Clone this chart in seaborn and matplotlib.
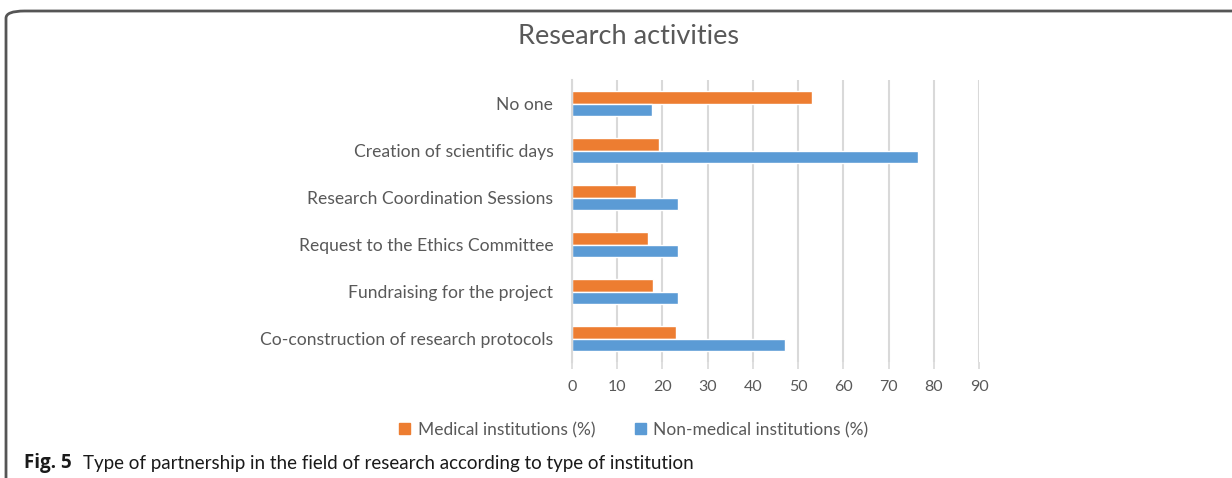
import matplotlib
matplotlib.use("Agg")
import matplotlib.pyplot as plt
from matplotlib.patches import FancyBboxPatch
import seaborn as sns
import pandas as pd

categories = [
    "No one",
    "Creation of scientific days",
    "Research Coordination Sessions",
    "Request to the Ethics Committee",
    "Fundraising for the project",
    "Co-construction of research protocols",
]
medical = [53.0, 19.2, 14.1, 16.8, 18.0, 23.1]
non_medical = [17.6, 76.5, 23.5, 23.5, 23.5, 47.0]
series_names = ["Medical institutions (%)", "Non-medical institutions (%)"]
x_ticks = [0, 10, 20, 30, 40, 50, 60, 70, 80, 90]

df = pd.DataFrame({
    "category": categories * 2,
    "value": medical + non_medical,
    "series": [series_names[0]] * len(categories) + [series_names[1]] * len(categories),
})

sns.set_theme(style="white")
plt.rcParams["font.family"] = ["Lato", "DejaVu Sans"]

W, H = 1232, 478
fig = plt.figure(figsize=(W / 100, H / 100), dpi=100)
ax = fig.add_axes([572 / W, 1 - 362 / H, (979 - 572) / W, (362 - 80) / H])

text_gray = "#595959"
grid_gray = "#D9D9D9"

sns.barplot(data=df, y="category", x="value", hue="series", order=categories,
            hue_order=series_names, palette=["#ED7D31", "#5B9BD5"],
            orient="h", width=0.54, ax=ax, legend=False, saturation=1)

ax.set_xlim(0, 90)
ax.set_ylim(5.5, -0.5)
ax.set_xticks(x_ticks)
ax.set_xticklabels([str(t) for t in x_ticks])
ax.set_xlabel("")
ax.set_ylabel("")
ax.set_axisbelow(True)
ax.grid(axis="x", color=grid_gray, linewidth=1.5)
ax.grid(axis="y", visible=False)
for s in ["top", "right", "bottom"]:
    ax.spines[s].set_visible(False)
ax.spines["left"].set_color(grid_gray)
ax.spines["left"].set_linewidth(1.5)
ax.tick_params(axis="x", length=5, width=1.2, color=grid_gray, labelcolor=text_gray,
               labelsize=11.5, pad=8, bottom=True)
ax.tick_params(axis="y", length=0, labelcolor=text_gray, labelsize=12.6, pad=13.5)

fig.text(629 / W, 1 - 37 / H, "Research activities", ha="center", va="center",
         fontsize=19.5, color=text_gray)

# legend
handles = [plt.Rectangle((0, 0), 1, 1, color=c) for c in ["#ED7D31", "#5B9BD5"]]
fig.legend(handles, series_names, loc="center", bbox_to_anchor=(634 / W, 1 - 430 / H),
           ncol=2, frameon=False, fontsize=12.5, labelcolor=text_gray,
           handlelength=0.6, handleheight=0.6, handletextpad=0.45, columnspacing=2.3)

# caption
fig.text(24 / W, 1 - 463 / H, "Fig. 5", ha="left", va="center", fontsize=13.5,
         fontweight="bold", color="#1a1a1a", family=["Open Sans", "DejaVu Sans"])
fig.text(83 / W, 1 - 463 / H, "Type of partnership in the field of research according to type of institution",
         ha="left", va="center", fontsize=13.5, color="#1a1a1a")

# frame
frame = FancyBboxPatch((6 / W, -0.1), 1.2, 1 - 11 / H + 0.1,
                       boxstyle="round,pad=0,rounding_size=0.015",
                       transform=fig.transFigure, fill=False,
                       edgecolor="#555555", linewidth=2, clip_on=False)
fig.patches.append(frame)

fig.savefig("out.png", dpi=100)
